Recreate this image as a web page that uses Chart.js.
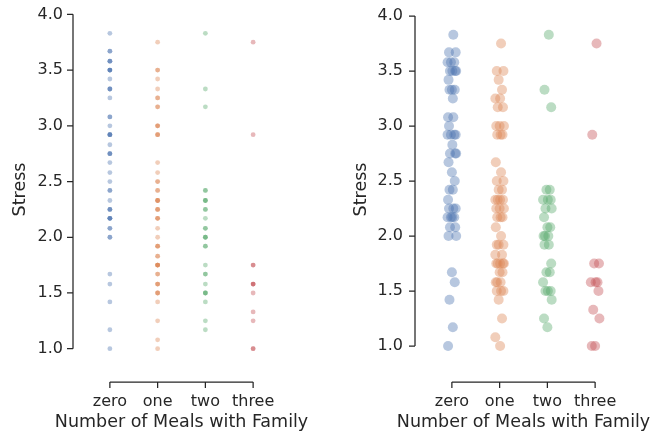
<!DOCTYPE html>
<html>
<head>
<meta charset="utf-8">
<script src="https://cdn.jsdelivr.net/npm/chart.js@4.4.1/dist/chart.umd.min.js"></script>
<style>
  body { margin: 0; background: #fff; }
  .panel { position: absolute; top: 0; width: 325px; height: 434px; }
</style>
</head>
<body>
<div class="panel" style="left:0"><canvas id="strip_plain" width="325" height="434"></canvas></div>
<div class="panel" style="left:325px"><canvas id="strip_jitter" width="325" height="434"></canvas></div>
<script>
// categories + stress values (steps of 1/12)
var categories = ['zero', 'one', 'two', 'three'];
var stressZero = [3.83, 3.67, 3.67, 3.58, 3.58, 3.58, 3.5, 3.5, 3.5, 3.5, 3.42, 3.33, 3.33, 3.33, 3.25,
  3.08, 3.08, 3.0, 2.92, 2.92, 2.92, 2.92, 2.83, 2.75, 2.75, 2.75, 2.67, 2.58, 2.5, 2.42, 2.42, 2.33,
  2.25, 2.25, 2.25, 2.17, 2.17, 2.17, 2.17, 2.08, 2.08, 2.0, 2.0, 1.67, 1.58, 1.42, 1.17, 1.0];
var stressOne = [3.75, 3.5, 3.5, 3.42, 3.33, 3.25, 3.25, 3.17, 3.17, 3.0, 3.0, 3.0, 2.92, 2.92, 2.92,
  2.67, 2.58, 2.5, 2.5, 2.42, 2.42, 2.33, 2.33, 2.33, 2.33, 2.25, 2.25, 2.25, 2.17, 2.17, 2.17, 2.08,
  2.0, 1.92, 1.92, 1.92, 1.83, 1.83, 1.75, 1.75, 1.75, 1.75, 1.75, 1.67, 1.67, 1.58, 1.58, 1.58,
  1.5, 1.5, 1.5, 1.42, 1.25, 1.08, 1.0];
var stressTwo = [3.83, 3.33, 3.17, 2.42, 2.42, 2.33, 2.33, 2.33, 2.25, 2.25, 2.17, 2.08, 2.08, 2.0, 2.0,
  2.0, 1.92, 1.92, 1.75, 1.67, 1.67, 1.58, 1.5, 1.5, 1.5, 1.42, 1.25, 1.17];
var stressThree = [3.75, 2.92, 1.75, 1.75, 1.58, 1.58, 1.58, 1.5, 1.33, 1.25, 1.0, 1.0];
var yTicks = [1.0, 1.5, 2.0, 2.5, 3.0, 3.5, 4.0];
var xTitle = 'Number of Meals with Family';

// fixed horizontal spread for the jittered panel (category units)
var jit = [0.03, -0.06, 0.08, -0.02, 0.05, -0.09, 0.01, 0.07, -0.04, 0.09, -0.07, 0.0, 0.06, -0.05, 0.02, -0.08];

var groups = [stressZero, stressOne, stressTwo, stressThree];
var colors = ['rgba(76,114,176,0.4)', 'rgba(221,132,82,0.4)', 'rgba(85,168,104,0.4)', 'rgba(196,78,82,0.4)'];
var ink = '#262626';
var font = 'DejaVu Sans';

// offset + trimmed spines (seaborn despine look) and the x title, which
// chart.js would squeeze to the plot width
var spines = {
  id: 'spines',
  afterDraw: function(chart, args, opts){
    var ctx = chart.ctx, ca = chart.chartArea, x = chart.scales.x, y = chart.scales.y;
    var sx = ca.left - opts.offset, sy = ca.bottom + opts.offset;
    ctx.save();
    ctx.strokeStyle = ink; ctx.lineWidth = 1.25;
    ctx.beginPath();
    ctx.moveTo(sx, y.getPixelForValue(yTicks[0]));
    ctx.lineTo(sx, y.getPixelForValue(yTicks[yTicks.length-1]));
    for(var i = 0;i<yTicks.length;i++){
      var py = y.getPixelForValue(yTicks[i]);
      ctx.moveTo(sx-6, py); ctx.lineTo(sx, py);
    }
    ctx.moveTo(x.getPixelForValue(0), sy);
    ctx.lineTo(x.getPixelForValue(categories.length-1), sy);
    for(var j = 0;j<categories.length;j++){
      var px = x.getPixelForValue(j);
      ctx.moveTo(px, sy); ctx.lineTo(px, sy+6);
    }
    ctx.stroke();
    ctx.fillStyle = ink;
    ctx.font = '17.5px "' + font + '"';
    ctx.textAlign = 'center'; ctx.textBaseline = 'middle';
    ctx.fillText(xTitle, (ca.left + ca.right)/2, chart.height - 12);
    ctx.restore();
  }
};

function build(id, o){
  var sets = [];
  for(var i = 0;i<groups.length;i++){
    sets[i] = {
      data: groups[i].map(function(v, k){ return {x: i + (o.jitter ? jit[k % jit.length] : 0), y: v}; }),
      backgroundColor: colors[i],
      borderWidth: 0,
      pointRadius: o.radius,
      pointHoverRadius: o.radius
    };
  }
  new Chart(document.getElementById(id).getContext('2d'), {
    type: 'scatter',
    data: { datasets: sets },
    plugins: [spines],
    options: {
      responsive: false,
      animation: false,
      devicePixelRatio: 1,
      layout: { padding: { top: 10, right: o.padRight, bottom: 0, left: 0 } },
      plugins: { legend: { display: false }, tooltip: { enabled: false }, spines: { offset: 13 } },
      scales: {
        x: {
          type: 'linear', min: -0.5, max: 3.5,
          afterBuildTicks: function(s){ s.ticks = categories.map(function(c, k){ return {value: k}; }); },
          afterFit: function(s){ s.height = 65; s.paddingLeft = 0; s.paddingRight = 0; },
          grid: { display: false, drawTicks: false },
          border: { display: false },
          ticks: { autoSkip: false, maxRotation: 0, padding: 23, color: ink, font: { family: font, size: 16 },
            callback: function(v, k){ return categories[k]; } }
        },
        y: {
          min: o.yMin, max: o.yMax,
          afterBuildTicks: function(s){ s.ticks = yTicks.map(function(v){ return {value: v}; }); },
          afterFit: function(s){ s.width = o.yWidth; s.paddingTop = 0; s.paddingBottom = 0; },
          grid: { display: false, drawTicks: false },
          border: { display: false },
          ticks: { padding: o.labelPad, color: ink, font: { family: font, size: 16 },
            callback: function(v){ return v.toFixed(1); } },
          title: { display: true, text: 'Stress', color: ink,
            font: { family: font, size: 17.5 }, padding: { top: o.titlePad, bottom: 0 } }
        }
      }
    }
  });
}

build('strip_plain', { jitter: false, radius: 2.4, yMin: 0.818, yMax: 4.039, yWidth: 86, padRight: 48, labelPad: 23, titlePad: 10 });
build('strip_jitter', { jitter: true, radius: 5, yMin: 0.791, yMax: 4.055, yWidth: 103, padRight: 31, labelPad: 25, titlePad: 26 });
</script>
</body>
</html>
